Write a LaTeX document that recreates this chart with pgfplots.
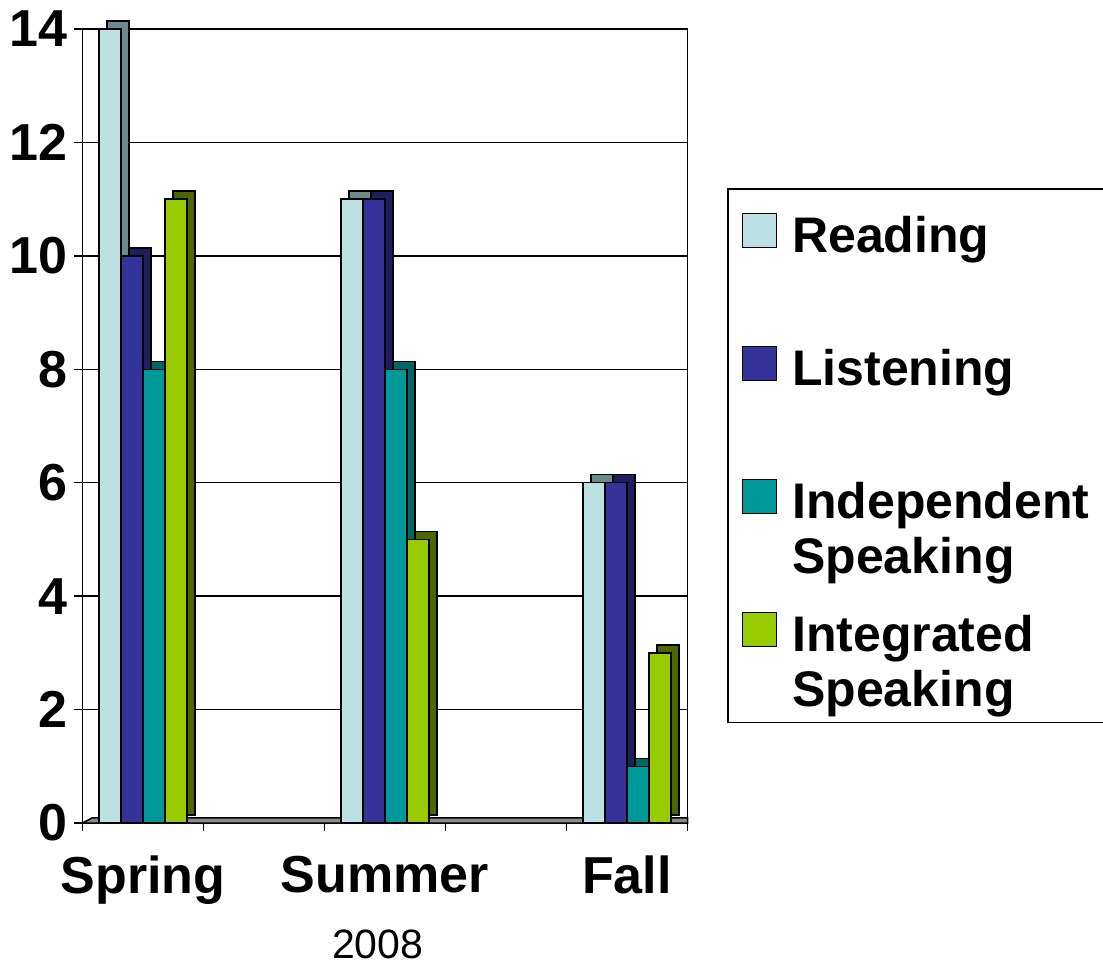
\documentclass[border=0pt]{standalone}
\usepackage{pgfplots}
\pgfplotsset{compat=1.18}
\usepackage{fontspec}
\setmainfont{Liberation Sans}
\definecolor{readF}{HTML}{BDE0E3}
\definecolor{readS}{HTML}{6A8A8C}
\definecolor{listF}{HTML}{333399}
\definecolor{listS}{HTML}{1F1F5E}
\definecolor{indF}{HTML}{009999}
\definecolor{indS}{HTML}{006666}
\definecolor{intF}{HTML}{99CC00}
\definecolor{intS}{HTML}{4D6600}
\definecolor{floorgray}{HTML}{8C8C8C}
\pgfplotsset{
  mybar/.style={ybar, bar width=11pt, draw=black, line width=0.75pt,
    legend image code/.code={\draw[#1, draw=black, line width=0.75pt] (0pt,-17pt) rectangle (17pt,0pt);}},
}
\begin{document}
\begin{tikzpicture}
\useasboundingbox (-41.25pt,-71pt) rectangle (510.25pt,411.5pt);
\begin{axis}[
  scale only axis, width=302.5pt, height=397pt,
  at={(0,0)}, anchor=south west, clip=false,
  xmin=-0.25, xmax=2.25, ymin=0, ymax=14,
  ytick={0,2,...,14},
  xtick={-0.25,0.25,0.75,1.25,1.75,2.25}, xticklabels={},
  extra x ticks={0,1,2}, extra x tick labels={Spring,Summer,Fall},
  extra x tick style={major tick length=0pt, tick style={draw=none}},
  tick align=outside, major tick length=4pt,
  tick style={black, line width=0.75pt},
  xtick pos=bottom, ytick pos=left,
  ymajorgrids, grid style={black, line width=0.75pt},
  axis line style={line width=0.75pt},
  /pgf/number format/assume math mode=true,
  tick label style={font=\fontsize{26}{30}\selectfont\bfseries},
  xticklabel style={yshift=-13pt, font=\fontsize{26}{30}\selectfont\bfseries},
  xlabel={2008},
  xlabel style={at={(axis description cs:0.488,0)}, anchor=north, inner sep=0pt, yshift=-53pt, font=\fontsize{20.5}{24}\selectfont},
  legend style={at={(1.0653,0.7997)}, anchor=north west, draw=black, line width=0.75pt,
    nodes={inner sep=0pt},
    inner xsep=7pt, inner ysep=12pt, row sep=0pt, column sep=7.5pt,
    cells={anchor=north west, inner sep=0pt},
    font=\fontsize{25}{27.5}\selectfont\bfseries},
]
% floor
\addplot[fill=floorgray, draw=black, line width=0.75pt, forget plot]
  coordinates {(-0.25,0) (-0.21,0.09) (2.25,0.09) (2.25,0)} -- cycle;
% side/top faces (depth)
\addplot[mybar, bar shift=-12.5pt, yshift=4pt, fill=readS, forget plot] coordinates {(0,14) (1,11) (2,6)};
\addplot[mybar, bar shift=-1.5pt, yshift=4pt, fill=listS, forget plot] coordinates {(0,10) (1,11) (2,6)};
\addplot[mybar, bar shift=9.5pt, yshift=4pt, fill=indS, forget plot] coordinates {(0,8) (1,8) (2,1)};
\addplot[mybar, bar shift=20.5pt, yshift=4pt, fill=intS, forget plot] coordinates {(0,11) (1,5) (2,3)};
% front faces
\addplot[mybar, bar shift=-16.5pt, fill=readF] coordinates {(0,14) (1,11) (2,6)};
\addlegendentry{\parbox[b][64.25pt][t]{170pt}{\strut Reading}}
\addplot[mybar, bar shift=-5.5pt, fill=listF] coordinates {(0,10) (1,11) (2,6)};
\addlegendentry{\parbox[b][64.25pt][t]{170pt}{\strut Listening}}
\addplot[mybar, bar shift=5.5pt, fill=indF] coordinates {(0,8) (1,8) (2,1)};
\addlegendentry{\parbox[b][64.25pt][t]{170pt}{\strut Independent\\Speaking}}
\addplot[mybar, bar shift=16.5pt, fill=intF] coordinates {(0,11) (1,5) (2,3)};
\addlegendentry{\parbox[b][41pt][t]{170pt}{\strut Integrated\\Speaking}}
\end{axis}
\end{tikzpicture}
\end{document}
